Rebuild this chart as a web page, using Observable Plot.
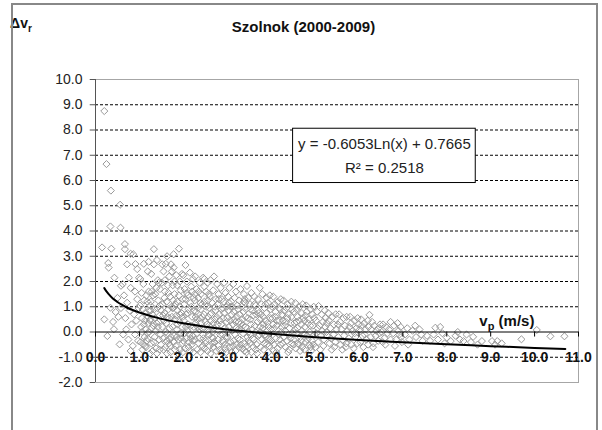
<!DOCTYPE html>
<html><head><meta charset="utf-8">
<script src="https://cdn.jsdelivr.net/npm/d3@7"></script>
<script src="https://cdn.jsdelivr.net/npm/@observablehq/plot@0.6"></script>
<style>
body{margin:0;background:#fff}
#wrap{position:relative;width:602px;height:430px;overflow:hidden}
#outer{position:absolute;left:11px;top:3px;width:583px;height:460px;border:2px solid #888;pointer-events:none}
</style>
</head><body><div id="wrap"><div id="chart"></div><div id="outer"></div></div>
<script>
const chartTitle = "Szolnok (2000-2009)";
const equationLines = ["y = -0.6053Ln(x) + 0.7665", "R² = 0.2518"];
const yTicks = [-2,-1,0,1,2,3,4,5,6,7,8,9,10];
const xTicks = [0,1,2,3,4,5,6,7,8,9,10,11];
const gridY = [-1,1,2,3,4,5,6,7,8,9];

const obsBelow1 = [[0.2,8.75],[0.25,6.65],[0.35,5.6],[0.56,5.04],[0.34,4.18],[0.57,4.13],[0.15,3.35],[0.36,3.3],[0.29,2.73],[0.3,2.55],[0.43,2.15],[0.58,1.83],[0.2,0.5],[0.34,0.96],[0.46,0.79],[0.42,0.11],[0.27,-0.16],[0.55,-0.49],[0.5,1.35],[0.4,0.4],[0.58,0.95],[0.52,0.6],
  [0.67,3.48],[0.67,3.28],[0.8,3.1],[0.86,3.08],[0.72,2.68],[0.91,2.69],[0.95,2.49],[0.76,2.15],[0.99,2.15],[0.62,1.9],[0.8,1.75],[0.72,1.16],[0.65,1.45],[0.9,1.6],[0.95,1.3],[0.78,0.85],[0.68,0.55],[0.88,0.7],[0.98,0.95],[0.7,0.1],[0.82,0.3],[0.93,0.45],[0.75,-0.3],[0.9,-0.1],[0.85,-0.55],[0.97,-0.35],[0.63,-0.1],[0.8,-0.75]];
const obs1to2 = [[1.02,2.1],[1.05,1.55],[1.08,0.9],[1.1,0.3],[1.12,-0.2],[1.15,-0.6],[1.18,1.2],[1.2,0.6],[1.22,0.0],[1.24,-0.85],[1.03,-0.4],[1.06,0.55],[1.09,1.9],[1.11,1.25],[1.14,0.1],[1.17,-0.35],[1.19,2.4],[1.21,1.6],[1.23,0.85],[1.04,0.2],[1.07,-0.7],[1.13,0.75],[1.16,1.45],[1.18,-0.05],[1.2,0.35],[1.21,2.78],[1.25,1.05],[1.01,1.05],[1.13,-0.55],[1.24,0.45],[1.1,2.7],
  [1.33,3.28],[1.33,2.68],[1.4,2.85],[1.27,2.3],[1.3,1.9],[1.36,1.5],[1.42,2.05],[1.47,1.7],[1.26,1.2],[1.29,0.7],[1.32,0.25],[1.35,-0.2],[1.38,-0.65],[1.41,0.95],[1.44,0.4],[1.48,-0.1],[1.27,-0.45],[1.31,1.45],[1.34,0.9],[1.37,0.05],[1.4,-0.85],[1.43,1.25],[1.46,0.65],[1.49,-0.5],[1.28,0.15],[1.39,1.75],[1.45,-0.3],[1.3,-0.75],[1.36,0.55],[1.47,1.05],[1.42,0.2],[1.25,0.5],
  [1.52,2.68],[1.63,3.0],[1.6,2.7],[1.72,2.68],[1.55,2.4],[1.68,2.2],[1.51,1.95],[1.58,1.6],[1.65,1.85],[1.7,1.4],[1.53,1.1],[1.57,0.75],[1.61,0.35],[1.64,-0.05],[1.67,-0.45],[1.71,-0.8],[1.74,0.6],[1.54,-0.25],[1.59,-0.6],[1.62,1.2],[1.66,0.9],[1.69,0.15],[1.73,1.0],[1.56,0.45],[1.6,0.0],[1.63,-0.85],[1.68,0.55],[1.72,-0.2],[1.5,0.85],[1.66,1.55],[1.58,2.05],[1.74,2.4],[1.55,-0.7],[1.7,-0.55],
  [1.9,3.3],[1.78,3.08],[1.78,2.55],[1.84,2.25],[1.92,2.0],[1.97,2.3],[1.76,1.85],[1.8,1.5],[1.86,1.2],[1.94,1.65],[1.99,1.3],[1.77,0.95],[1.81,0.5],[1.85,0.1],[1.89,-0.3],[1.93,-0.7],[1.96,0.75],[1.79,-0.15],[1.83,-0.55],[1.87,0.85],[1.91,0.4],[1.95,-0.05],[1.98,-0.45],[1.82,1.1],[1.9,1.45],[1.76,0.2],[1.88,-0.85],[1.97,0.2],[1.84,0.65],[1.93,1.0],[1.78,-0.4],[1.99,-0.8],[1.86,1.85],[1.8,2.0]];
const obs2to3 = [[2.05,2.65],[2.0,2.25],[2.08,2.0],[2.15,2.35],[2.22,2.1],[2.03,1.7],[2.1,1.45],[2.18,1.8],[2.24,1.35],[2.02,1.1],[2.06,0.7],[2.11,0.3],[2.14,-0.1],[2.19,-0.5],[2.23,-0.8],[2.01,0.45],[2.07,-0.25],[2.12,0.9],[2.16,1.15],[2.2,0.6],[2.04,-0.65],[2.09,0.05],[2.13,-0.4],[2.17,0.25],[2.21,-0.15],[2.25,0.85],[2.05,1.3],[2.15,-0.75],[2.2,1.6],[2.1,0.75],[2.24,0.2],[2.03,-0.05],
  [2.27,2.2],[2.37,1.95],[2.45,2.15],[2.3,1.7],[2.4,1.5],[2.48,1.8],[2.26,1.25],[2.33,0.95],[2.38,0.55],[2.42,0.15],[2.46,-0.25],[2.49,-0.65],[2.28,0.35],[2.31,-0.05],[2.35,-0.45],[2.39,-0.8],[2.43,1.1],[2.47,0.7],[2.29,0.8],[2.34,1.35],[2.41,0.35],[2.44,-0.55],[2.36,0.1],[2.32,-0.7],[2.26,-0.3],[2.5,0.4],[2.4,0.9],[2.45,-0.1],[2.3,0.5],[2.48,1.2],[2.35,1.6],[2.48,2.1],
  [2.55,1.95],[2.62,2.05],[2.77,1.9],[2.52,1.6],[2.6,1.4],[2.68,1.65],[2.74,1.3],[2.53,1.0],[2.57,0.6],[2.61,0.2],[2.65,-0.2],[2.69,-0.6],[2.73,0.85],[2.51,-0.35],[2.55,-0.75],[2.59,0.95],[2.63,0.45],[2.67,0.0],[2.71,-0.4],[2.54,0.3],[2.58,-0.1],[2.66,1.15],[2.72,0.5],[2.6,-0.55],[2.64,0.75],[2.7,0.15],[2.56,1.25],[2.75,-0.75],[2.62,-0.85],[2.68,-0.25],
  [2.7,2.2],[2.85,1.75],[2.93,1.95],[2.8,1.5],[2.88,1.3],[2.96,1.55],[2.78,1.1],[2.82,0.7],[2.86,0.3],[2.9,-0.1],[2.94,-0.5],[2.98,-0.8],[2.79,-0.3],[2.83,-0.7],[2.87,0.9],[2.91,0.55],[2.95,0.15],[2.99,1.0],[2.81,0.05],[2.84,0.45],[2.89,-0.35],[2.92,1.2],[2.97,-0.2],[2.76,0.6],[2.93,0.75],[2.8,-0.55],[2.88,-0.8],[2.99,0.4]];
const obs3to4 = [[3.05,1.75],[3.14,1.9],[3.2,1.6],[3.02,1.4],[3.09,1.2],[3.17,1.35],[3.23,1.05],[3.03,0.85],[3.07,0.45],[3.11,0.05],[3.15,-0.35],[3.19,-0.75],[3.22,0.6],[3.01,-0.2],[3.06,-0.6],[3.1,0.7],[3.13,0.3],[3.18,-0.1],[3.21,-0.5],[3.04,0.2],[3.08,-0.4],[3.12,1.0],[3.16,0.5],[3.24,-0.25],[3.0,0.55],[3.1,-0.8],[3.2,0.15],[3.25,0.9],
  [3.3,1.7],[3.45,1.82],[3.38,1.5],[3.27,1.25],[3.33,1.0],[3.41,1.15],[3.48,1.35],[3.28,0.7],[3.32,0.35],[3.36,-0.05],[3.4,-0.45],[3.44,-0.8],[3.47,0.55],[3.29,-0.3],[3.34,-0.65],[3.37,0.8],[3.42,0.2],[3.46,-0.2],[3.31,0.1],[3.35,0.5],[3.39,-0.75],[3.43,0.9],[3.49,0.0],[3.26,0.4],[3.45,-0.55],[3.38,1.2],
  [3.74,1.75],[3.55,1.55],[3.62,1.4],[3.7,1.3],[3.52,1.1],[3.58,0.85],[3.65,1.05],[3.72,0.75],[3.53,0.5],[3.57,0.1],[3.61,-0.3],[3.65,-0.7],[3.69,0.4],[3.73,-0.1],[3.51,-0.45],[3.55,-0.8],[3.59,0.65],[3.63,0.25],[3.67,-0.5],[3.71,-0.15],[3.54,0.3],[3.6,-0.6],[3.66,0.7],[3.75,0.5],[3.68,-0.85],
  [3.8,1.5],[3.9,1.35],[3.97,1.45],[3.78,1.1],[3.85,0.95],[3.93,1.15],[3.77,0.7],[3.82,0.3],[3.86,-0.1],[3.9,-0.5],[3.94,-0.8],[3.98,0.55],[3.79,-0.3],[3.83,-0.7],[3.87,0.45],[3.91,0.05],[3.95,-0.25],[3.99,0.9],[3.81,0.15],[3.89,0.75],[3.96,-0.55],[3.84,-0.45],[3.92,0.35],[3.76,0.0]];
const obs4to5 = [[4.05,1.4],[4.15,1.2],[4.22,1.3],[4.02,1.0],[4.1,0.8],[4.18,0.95],[4.03,0.55],[4.07,0.15],[4.11,-0.25],[4.15,-0.65],[4.19,0.45],[4.23,0.0],[4.01,-0.35],[4.05,-0.75],[4.09,0.6],[4.13,0.25],[4.17,-0.1],[4.21,-0.5],[4.25,0.7],[4.04,0.3],[4.12,-0.8],[4.2,-0.3],[4.08,1.1],[4.24,0.2],
  [4.28,1.25],[4.38,1.1],[4.46,1.2],[4.3,0.85],[4.4,0.7],[4.48,0.9],[4.27,0.45],[4.32,0.05],[4.36,-0.35],[4.41,-0.7],[4.45,0.35],[4.49,-0.05],[4.29,-0.2],[4.33,-0.6],[4.37,0.55],[4.42,0.15],[4.47,-0.45],[4.31,0.25],[4.35,0.95],[4.44,-0.25],[4.39,-0.8],[4.26,0.65],
  [4.55,1.15],[4.65,1.0],[4.72,1.1],[4.52,0.8],[4.6,0.6],[4.7,0.75],[4.53,0.35],[4.57,-0.05],[4.61,-0.45],[4.66,-0.75],[4.69,0.3],[4.74,-0.1],[4.51,-0.3],[4.56,-0.65],[4.6,0.15],[4.64,0.45],[4.68,-0.35],[4.73,0.55],[4.58,0.9],[4.67,-0.2],[4.71,-0.6],[4.54,0.1],
  [4.8,1.05],[4.9,0.9],[4.97,1.0],[4.78,0.65],[4.86,0.5],[4.94,0.7],[4.77,0.2],[4.82,-0.15],[4.87,-0.5],[4.91,-0.75],[4.95,0.25],[4.99,-0.1],[4.79,-0.4],[4.84,0.35],[4.88,0.0],[4.93,-0.35],[4.98,0.55],[4.81,0.8],[4.9,-0.6],[4.76,-0.7]];
const obsCoreExtra = [[1.06,0.0],[1.12,0.45],[1.19,-0.25],[1.26,0.85],[1.33,-0.4],[1.39,0.35],[1.46,-0.7],[1.52,0.2],[1.57,1.35],[1.63,0.6],[1.69,-0.3],[1.75,0.95],[1.81,-0.7],[1.87,0.3],[1.94,-0.25],[1.99,0.6],
  [2.06,0.2],[2.12,-0.6],[2.18,1.0],[2.22,-0.35],[2.28,0.6],[2.33,0.2],[2.39,1.15],[2.44,0.6],[2.5,-0.45],[2.56,0.05],[2.61,0.7],[2.66,-0.45],[2.72,1.0],[2.78,0.3],[2.84,-0.1],[2.9,0.95],[2.96,-0.65],
  [3.02,0.0],[3.08,1.0],[3.13,-0.55],[3.19,0.4],[3.25,0.1],[3.31,-0.5],[3.36,0.25],[3.42,0.6],[3.48,-0.35],[3.53,0.9],[3.58,-0.25],[3.64,0.0],[3.7,0.85],[3.76,-0.6],[3.82,0.6],[3.88,-0.2],[3.94,0.2],
  [4.0,0.1],[4.06,-0.5],[4.14,0.45],[4.2,0.9],[4.26,-0.45],[4.34,0.4],[4.4,-0.1],[4.46,0.6],[4.52,-0.5],[4.58,0.4],[4.64,-0.5],[4.7,0.05],[4.76,0.45],[4.83,-0.3],[4.89,0.25],[4.96,-0.5],
  [1.09,-0.5],[1.28,1.6],[1.44,1.95],[1.54,0.65],[1.62,-0.35],[1.77,1.25],[1.85,-0.2],[1.92,0.7],[2.0,-0.35],[2.08,1.55],[2.17,-0.25],[2.26,1.5],[2.37,-0.25],[2.47,0.1],[2.58,1.5],[2.69,0.35],[2.81,1.3],[2.92,-0.4],[3.04,1.15],[3.15,0.8],[3.27,-0.6],[3.4,1.3],[3.52,-0.1],[3.62,1.1],[3.75,0.2],[3.87,1.1],[3.97,-0.3]];
const obs5to7 = [[5.08,1.03],[5.05,0.8],[5.15,0.7],[5.22,0.85],[5.02,0.45],[5.1,0.25],[5.18,0.4],[5.03,-0.05],[5.07,-0.4],[5.12,-0.7],[5.16,0.05],[5.2,-0.3],[5.24,0.55],[5.01,-0.6],[5.06,0.15],[5.14,-0.15],[5.19,-0.55],[5.23,0.2],
  [5.3,0.75],[5.4,0.6],[5.47,0.7],[5.27,0.35],[5.35,0.15],[5.43,0.3],[5.28,-0.15],[5.33,-0.45],[5.38,-0.7],[5.42,-0.1],[5.46,-0.4],[5.49,0.1],[5.31,0.45],[5.36,-0.25],[5.44,-0.6],[5.26,0.0],
  [5.55,0.7],[5.65,0.55],[5.72,0.6],[5.52,0.3],[5.6,0.1],[5.68,0.25],[5.53,-0.2],[5.58,-0.5],[5.62,-0.7],[5.66,-0.15],[5.71,-0.45],[5.74,0.05],[5.57,0.4],[5.64,-0.35],[5.7,-0.6],
  [5.8,0.6],[5.9,0.45],[5.97,0.55],[5.78,0.2],[5.86,0.05],[5.94,0.15],[5.77,-0.25],[5.83,-0.5],[5.88,-0.65],[5.92,-0.2],[5.96,-0.45],[5.99,0.3],[5.82,0.35],[5.9,-0.05],
  [6.24,0.68],[6.2,0.45],[6.05,0.5],[6.12,0.35],[6.02,0.1],[6.08,-0.15],[6.15,0.1],[6.22,0.2],[6.03,-0.4],[6.1,-0.6],[6.17,-0.3],[6.21,-0.5],[6.06,0.25],[6.13,-0.1],
  [6.3,0.4],[6.28,0.1],[6.35,0.25],[6.44,0.15],[6.48,0.3],[6.27,-0.2],[6.33,-0.45],[6.38,-0.15],[6.44,-0.35],[6.47,-0.05],[6.32,-0.6],[6.4,0.05],
  [6.55,0.3],[6.62,0.2],[6.72,0.4],[6.52,0.0],[6.58,-0.25],[6.65,-0.05],[6.72,-0.3],[6.6,-0.5],[6.68,0.1],[6.54,-0.4],
  [6.8,0.25],[6.88,0.35],[6.95,0.2],[6.78,-0.05],[6.85,-0.3],[6.92,-0.1],[6.98,-0.4],[6.82,-0.55],[6.9,0.05],[6.96,-0.2]];
const obsAbove7 = [[7.1,0.15],[7.05,-0.1],[7.15,-0.3],[7.22,0.05],[7.3,-0.2],[7.38,0.1],[7.45,-0.35],[7.12,-0.5],[7.28,0.25],[7.42,-0.1],
  [7.74,0.17],[7.85,0.2],[7.55,-0.15],[7.62,-0.35],[7.7,-0.1],[7.8,-0.3],[7.9,-0.05],[7.95,-0.45],
  [8.0,-0.22],[8.09,-0.36],[8.2,-0.15],[8.3,-0.3],[8.38,-0.36],[8.45,-0.1],[8.25,0.0],
  [8.6,-0.19],[8.55,-0.4],[8.8,-0.36],[8.7,-0.5],[9.03,-0.36],[9.15,-0.36],[9.1,-0.5],[9.25,-0.45],
  [9.7,-0.29],[10.05,0.08],[10.36,-0.17],[10.68,-0.17]];

// logarithmic trend line
const trendVp  = [0.2, 0.25, 0.3, 0.4, 0.5, 0.6, 0.7, 0.8, 1, 1.5, 2, 2.5, 3, 4, 5, 6, 7, 8, 9, 10, 10.7];
const trendDvr = [1.74, 1.61, 1.50, 1.32, 1.19, 1.08, 0.98, 0.90, 0.77, 0.52, 0.35, 0.21, 0.10, -0.07, -0.21, -0.32, -0.41, -0.49, -0.56, -0.63, -0.67];

// annotation layout (data units)
const eqBox = {x1: 4.5, x2: 8.66, y1: 5.9, y2: 8.05};
const eqLineY = [7.45, 6.5];

const FONT = "'Liberation Sans', Arial, sans-serif";
const points = [...obsBelow1, ...obs1to2, ...obs2to3, ...obs3to4, ...obs4to5, ...obsCoreExtra, ...obs5to7, ...obsAbove7].map(([vp, dvr]) => ({vp, dvr}));
const trend = trendVp.map((vp, i) => ({vp, dvr: trendDvr[i]}));

const plot = Plot.plot({
  width: 602, height: 430,
  marginLeft: 95, marginRight: 24, marginTop: 79, marginBottom: 48,
  x: {domain: [0, 11], axis: null},
  y: {domain: [-2, 10], axis: null},
  style: {fontFamily: FONT, fontSize: "14px", background: "white", overflow: "visible"},
  marks: [
    Plot.ruleY(gridY, {stroke: "#000", strokeWidth: 1, strokeDasharray: "3,2"}),
    Plot.frame({stroke: "#a6a6a6"}),
    Plot.dot(points, {x: "vp", y: "dvr", symbol: "diamond2", r: 3.2, stroke: "#999", fill: "none", strokeWidth: 1}),
    Plot.line(trend, {x: "vp", y: "dvr", stroke: "#000", strokeWidth: 2, curve: "monotone-x"}),
    Plot.ruleX([0], {stroke: "#555"}),
    Plot.ruleY(yTicks, {x1: -0.12, x2: 0, stroke: "#555"}),
    Plot.ruleY([0], {stroke: "#000"}),
    Plot.ruleX(xTicks, {y1: 0, y2: -0.2, stroke: "#000"}),
    Plot.text(yTicks, {x: 0, y: d => d, text: d => d.toFixed(1), textAnchor: "end", dx: -13, fontSize: 14, fill: "#222"}),
    Plot.text(xTicks, {x: d => d, y: -1, text: d => d.toFixed(1), fontWeight: "bold", fontSize: 14, fill: "#111"}),
    Plot.rect([eqBox], {x1: "x1", x2: "x2", y1: "y1", y2: "y2", fill: "white", stroke: "#000"}),
    Plot.text(equationLines, {x: (eqBox.x1 + eqBox.x2) / 2, y: (d, i) => eqLineY[i], text: d => d, fontSize: 15, fill: "#222"})
  ]
});

const svg = d3.select(plot);
svg.append("text").attr("x", 303.5).attr("y", 32).attr("text-anchor", "middle")
  .attr("font-weight", "bold").attr("font-size", 15).attr("fill", "#111").text(chartTitle);
const yl = svg.append("text").attr("x", 21).attr("y", 28).attr("font-weight", "bold").attr("font-size", 14).attr("fill", "#111");
yl.append("tspan").text("Δv");
yl.append("tspan").attr("dy", 4).attr("font-size", 10).text("r");
const sx = plot.scale("x"), sy = plot.scale("y");
const xl = svg.append("text").attr("x", sx.apply(9.38)).attr("y", sy.apply(0.2)).attr("font-weight", "bold").attr("font-size", 15).attr("fill", "#111");
xl.append("tspan").text("v");
xl.append("tspan").attr("dy", 4).attr("font-size", 11).text("p");
xl.append("tspan").attr("dy", -4).text(" (m/s)");

document.getElementById("chart").appendChild(plot);
</script>
</body></html>
